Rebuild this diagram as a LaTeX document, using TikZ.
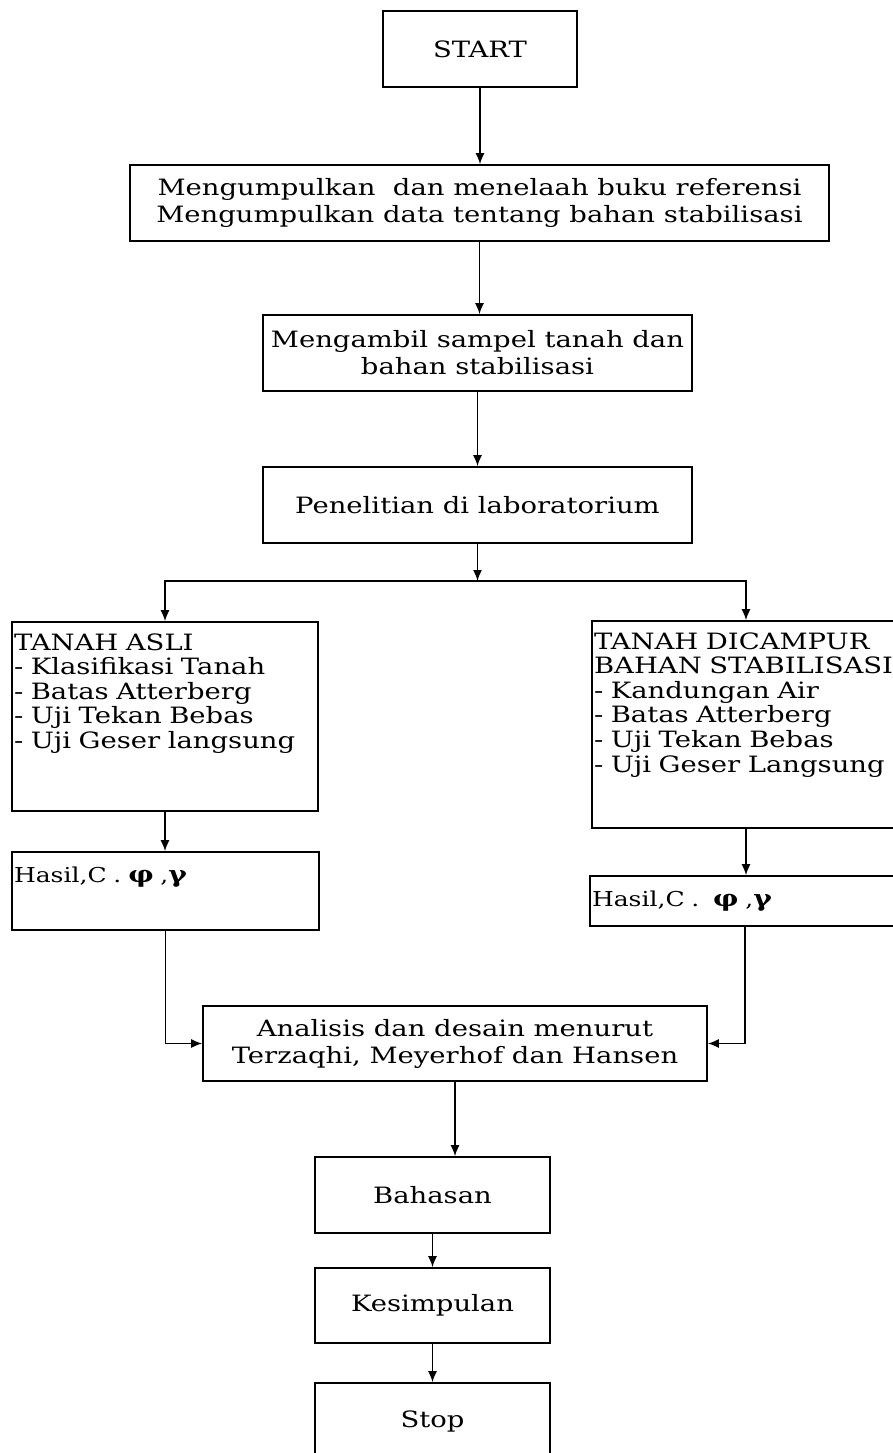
\documentclass[tikz,border=0pt]{standalone}
\usepackage{fontspec}
\setmainfont{DejaVu Serif}[FakeStretch=1.22]
\usetikzlibrary{arrows.meta}
\tikzset{
  box/.style={draw, line width=1.6pt, inner sep=3pt, align=center,
    font=\fontsize{22.5}{27}\selectfont},
  listbox/.style={draw, line width=1.6pt, inner xsep=2pt, inner ysep=4pt, align=left,
    text height=24pt, font=\fontsize{22.5}{24.6}\selectfont},
  hasilbox/.style={listbox, font=\fontsize{20.5}{22}\selectfont},
}
\newcommand{\grk}[1]{{\fontsize{23}{22}\selectfont\textbf{#1}}}

\begin{document}
\begin{tikzpicture}[x=1pt, y=-1pt, >={Latex[length=11pt,width=9pt]}, line width=1.6pt]
  \useasboundingbox (0,0) rectangle (892,1453);

  \node [box, minimum width=194pt, minimum height=76pt] (start) at (480,49) {START};
  \node [box, minimum width=699pt, minimum height=76pt] (kumpul) at (479.5,203)
    {Mengumpulkan\ \ dan menelaah buku referensi\\Mengumpulkan data tentang bahan stabilisasi};
  \node [box, minimum width=429pt, minimum height=76pt] (sampel) at (477.5,353)
    {Mengambil sampel tanah dan\\bahan stabilisasi};
  \node [box, minimum width=429pt, minimum height=76pt] (lab) at (477.5,505)
    {Penelitian di laboratorium};
  \coordinate (split) at (477.5,581);

  \node [listbox, text width=302pt, minimum width=306pt, text depth=157pt] (asli) at (165,716.5)
    {TANAH ASLI\\- Klasifikasi Tanah\\- Batas Atterberg\\- Uji Tekan Bebas\\- Uji Geser langsung};
  \node [listbox, text width=304pt, minimum width=308pt, text depth=175pt] (campur) at (746,724.5)
    {TANAH DICAMPUR\\BAHAN STABILISASI\\- Kandungan Air\\- Batas Atterberg\\- Uji Tekan Bebas\\- Uji Geser Langsung};

  \node [hasilbox, text width=303pt, minimum width=307pt, text height=26pt, text depth=44pt] (hasilL) at (165.5,891)
    {Hasil,C . \grk{φ} ,\grk{γ}};
  \node [hasilbox, text width=306pt, minimum width=310pt, text height=26pt, text depth=16pt] (hasilR) at (745,901)
    {Hasil,C .\ \ \grk{φ} ,\grk{γ}};

  \node [box, minimum width=504pt, minimum height=75pt] (analisis) at (455,1043.5)
    {Analisis dan desain menurut\\Terzaqhi, Meyerhof dan Hansen};
  \node [box, minimum width=235pt, minimum height=76pt] (bahasan) at (432.5,1195) {Bahasan};
  \node [box, minimum width=235pt, minimum height=75pt] (kesimpulan) at (432.5,1305.5) {Kesimpulan};
  \node [box, minimum width=235pt, minimum height=76pt] (stop) at (432.5,1421) {Stop};

  \draw [->] (start.south) -- (start.south |- kumpul.north);
  \draw [->] (kumpul.south) -- (kumpul.south |- sampel.north);
  \draw [->] (sampel.south) -- (lab.north);
  \draw [->] (lab.south) -- (split);
  \draw [->] (split) -| (asli.north);
  \draw [->] (split) -| (campur.north);
  \draw [->] (asli.south) -- (asli.south |- hasilL.north);
  \draw [->] (campur.south) -- (campur.south |- hasilR.north);
  \draw [->] (hasilL.south) |- (analisis.west);
  \draw [->] (hasilR.south) |- (analisis.east);
  \draw [->] (analisis.south) -- (analisis.south |- bahasan.north);
  \draw [->] (bahasan.south) -- (kesimpulan.north);
  \draw [->] (kesimpulan.south) -- (stop.north);
\end{tikzpicture}
\end{document}
